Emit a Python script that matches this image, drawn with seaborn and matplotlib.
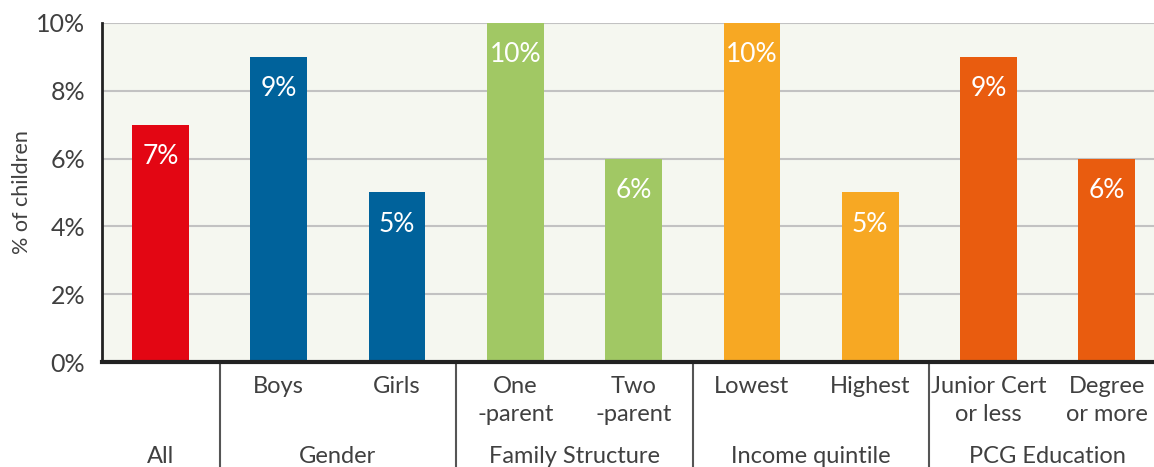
import matplotlib
matplotlib.use("Agg")
import matplotlib.pyplot as plt
import matplotlib.transforms as mtransforms
import pandas as pd
import seaborn as sns

categories = ["All", "Boys", "Girls", "One\n-parent", "Two\n-parent",
              "Lowest", "Highest", "Junior Cert\nor less", "Degree\nor more"]
values = [7, 9, 5, 10, 6, 10, 5, 9, 6]
groups = ["All", "Gender", "Gender", "Family Structure", "Family Structure",
          "Income quintile", "Income quintile", "PCG Education", "PCG Education"]
group_colors = {"All": "#e30613", "Gender": "#00629b", "Family Structure": "#a1c864",
                "Income quintile": "#f7a823", "PCG Education": "#e95c0f"}
yticks = [0, 2, 4, 6, 8, 10]

df = pd.DataFrame({"category": categories, "value": values, "group": groups})

sns.set_style("white")
plt.rcParams["font.family"] = ["Lato", "DejaVu Sans"]
text_col = "#404040"

fig = plt.figure(figsize=(11.54, 4.67), dpi=100)
ax = fig.add_axes([102 / 1154, 1 - 362 / 467, (1154 - 102) / 1154, (362 - 23) / 467])
ax.set_facecolor("#f5f7f0")

sns.barplot(data=df, x="category", y="value", hue="group", palette=group_colors,
            dodge=False, width=0.48, legend=False, saturation=1, linewidth=0,
            ax=ax, zorder=2)

ax.set_yticks(yticks)
ax.set_yticklabels([f"{t}%" for t in yticks], fontsize=18, color=text_col)
ax.yaxis.grid(True, color="#c2c2c2", lw=1.5, zorder=0)
ax.set_axisbelow(True)
ax.tick_params(axis="y", length=0, pad=12)

# category tick labels (first one shown as group label instead)
ax.set_xticks(range(len(categories)))
ax.set_xticklabels([""] + categories[1:], fontsize=17, color=text_col, linespacing=1.4, va="top")
ax.tick_params(axis="x", length=0, pad=10)
ax.set_xticks([i + 0.5 for i in range(len(categories))], minor=True)
ax.tick_params(axis="x", which="minor", direction="in", length=6, width=1.5, color="#333333")

# limits last, set_xticks can widen them
ax.set_ylim(0, 10)
ax.set_xlim(-0.495, 8.40)

ax.set_xlabel("")
ax.set_ylabel("% of children", fontsize=15.5, color=text_col, labelpad=3)

for s in ["top", "right"]:
    ax.spines[s].set_visible(False)
ax.spines["left"].set_color("#222222")
ax.spines["left"].set_linewidth(2)
ax.spines["bottom"].set_color("#222222")
ax.spines["bottom"].set_linewidth(3)
ax.spines["bottom"].set_zorder(5)

# value labels inside bars
for i, v in enumerate(values):
    ax.annotate(f"{v}%", (i, v), xytext=(0, -23), textcoords="offset points",
                ha="center", va="center", color="white", fontsize=19, zorder=6)

# group labels and separators below the axis
trans = mtransforms.blended_transform_factory(ax.transData, ax.transAxes)
group_order = list(dict.fromkeys(groups))
for g in group_order:
    idx = [i for i, gg in enumerate(groups) if gg == g]
    center = sum(idx) / len(idx)
    ax.text(center, -0.28, g, transform=trans, ha="center", va="center",
            fontsize=17, color=text_col)
    if idx[-1] < len(groups) - 1:
        ax.plot([idx[-1] + 0.5, idx[-1] + 0.5], [0, -0.4], transform=trans,
                color="#555555", lw=1.5, clip_on=False)

fig.savefig("out.png", dpi=100)
